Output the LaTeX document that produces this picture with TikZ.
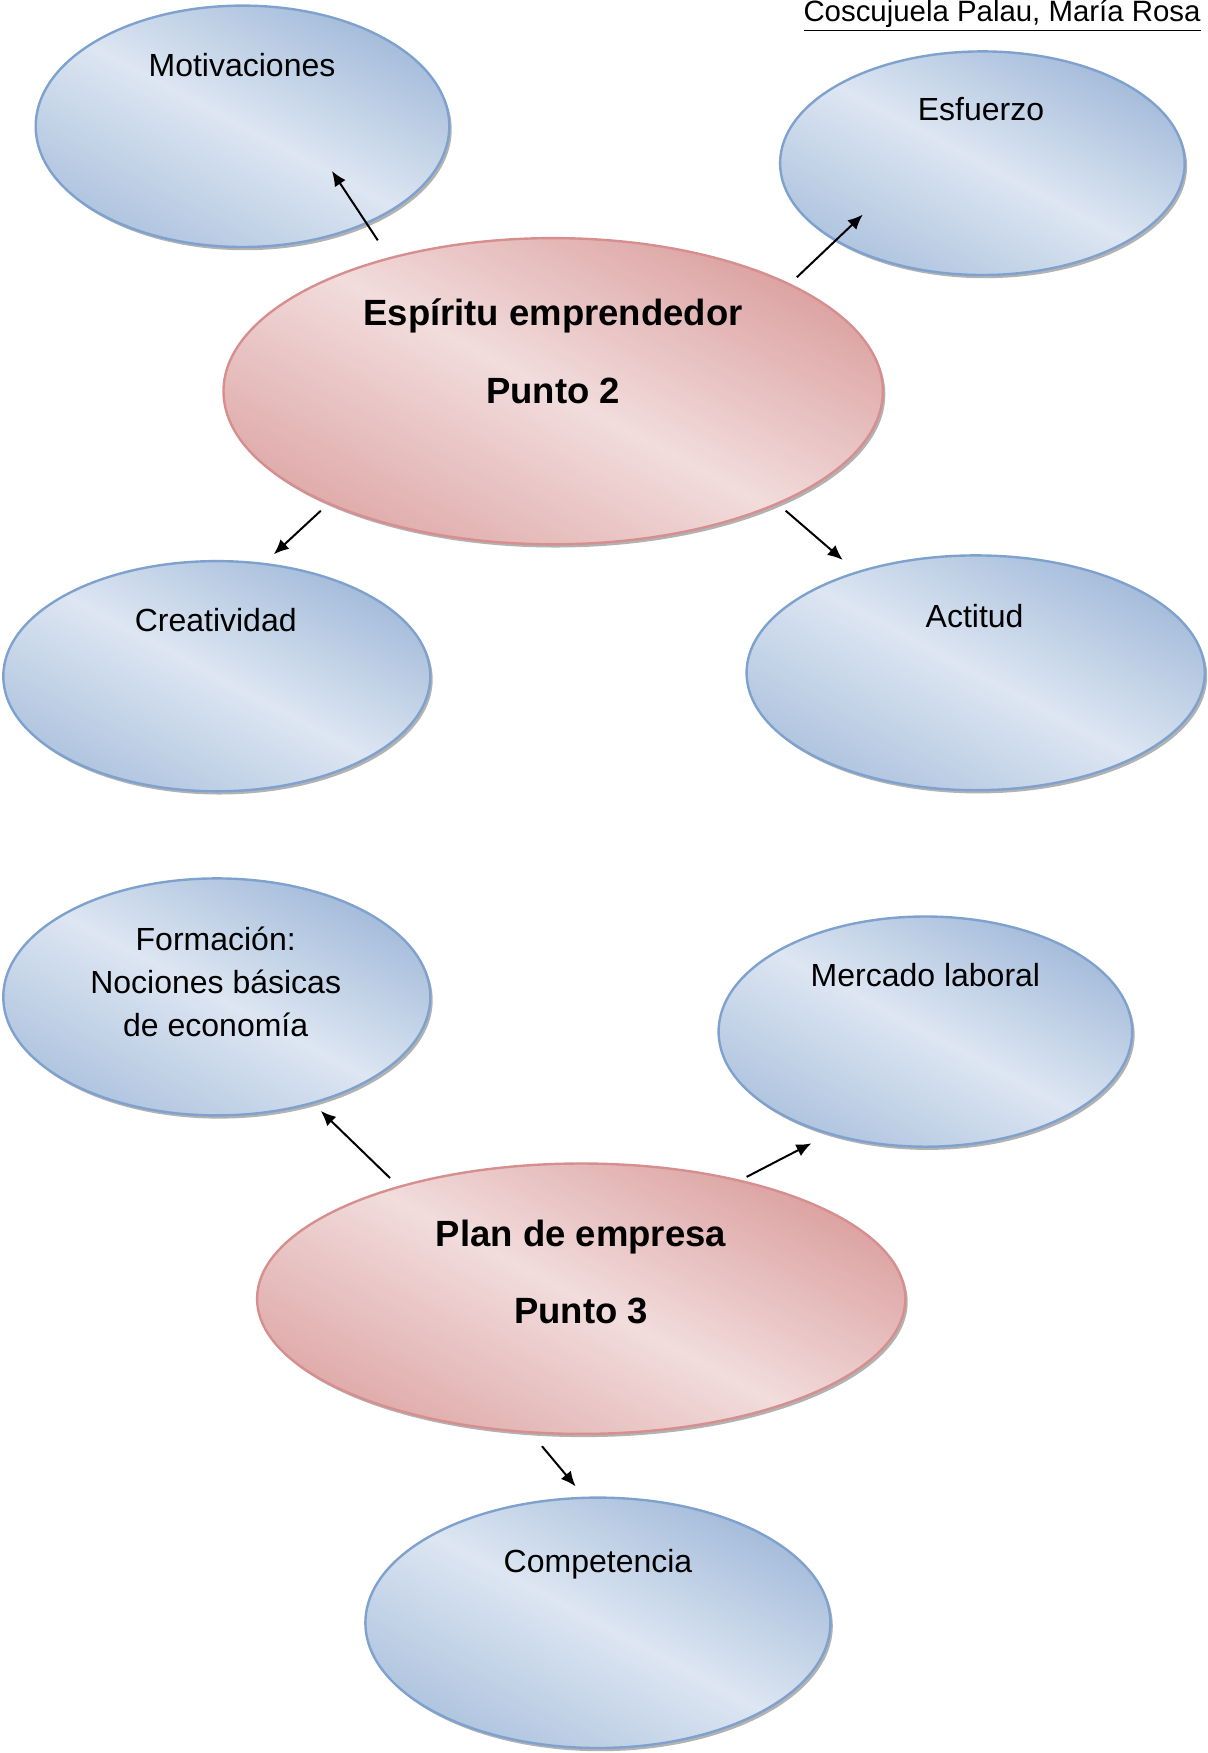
\documentclass[tikz,border=0pt]{standalone}
\usepackage{fontspec}
\setmainfont{Liberation Sans}
\usetikzlibrary{shapes.geometric,shadows,arrows.meta}
\definecolor{bluebd}{HTML}{7FA1CE}
\definecolor{bluedk}{HTML}{A3BBDA}
\definecolor{bluelt}{HTML}{DDE6F2}
\definecolor{pinkbd}{HTML}{D68F8E}
\definecolor{pinkdk}{HTML}{DCA1A1}
\definecolor{pinklt}{HTML}{F2DCDC}
\tikzset{
  ellbase/.style={ellipse, inner sep=0pt, line width=1.2pt,
    drop shadow={shadow xshift=1.2pt, shadow yshift=-1.6pt, fill=black, opacity=0.3}},
  blueell/.style={ellbase, draw=bluebd, shading=axis, top color=bluedk,
    bottom color=bluedk!80!bluelt, middle color=bluelt, shading angle=-28},
  pinkell/.style={ellbase, draw=pinkbd, shading=axis, top color=pinkdk,
    bottom color=pinkdk!85!pinklt, middle color=pinklt, shading angle=-28},
  txt/.style={font=\fontsize{16}{19}\selectfont, anchor=base, inner sep=0pt},
  btxt/.style={font=\fontsize{18.25}{22}\selectfont\bfseries, anchor=base, inner sep=0pt},
  arr/.style={line width=1pt, -{Latex[length=7.5pt,width=6.5pt]}}
}
\begin{document}
\begin{tikzpicture}[x=0.5pt,y=-0.5pt]
\useasboundingbox (0,0) rectangle (1207,1753);
% header
\node[font=\fontsize{14.7}{17}\selectfont, anchor=base east, inner sep=0pt] (author) at (1201,21) {\underline{Coscujuela Palau, María Rosa}};
% ellipses
\node[blueell, minimum width=206.8pt, minimum height=120.7pt] (mot) at (242.5,126.3) {};
\node[blueell, minimum width=202.3pt, minimum height=111.8pt] (esf) at (982.4,163.2) {};
\node[pinkell, minimum width=329.7pt, minimum height=153.1pt] (esp) at (553.2,391.2) {};
\node[blueell, minimum width=213.5pt, minimum height=115.1pt] (cre) at (216.8,676.2) {};
\node[blueell, minimum width=229.1pt, minimum height=117.4pt] (act) at (975.7,672.8) {};
\node[blueell, minimum width=213.5pt, minimum height=118.5pt] (for) at (216.8,996.9) {};
\node[blueell, minimum width=206.8pt, minimum height=115.1pt] (mer) at (925.4,1031.6) {};
\node[pinkell, minimum width=324.1pt, minimum height=135.2pt] (pla) at (581.2,1298.7) {};
\node[blueell, minimum width=232.5pt, minimum height=125.2pt] (com) at (597.9,1622.8) {};
% texts
\node[txt] (motT) at (242,76.5) {Motivaciones};
\node[txt] (esfT) at (981,120.7) {Esfuerzo};
\node[btxt] (espT1) at (553,325) {Espíritu emprendedor};
\node[btxt] (espT2) at (553,403.3) {Punto 2};
\node[txt] (creT) at (215.7,631.5) {Creatividad};
\node[txt] (actT) at (974.6,627) {Actitud};
\node[txt] (forT1) at (215.7,950) {Formación:};
\node[txt] (forT2) at (215.7,993.6) {Nociones básicas};
\node[txt] (forT3) at (215.7,1036.7) {de economía};
\node[txt] (merT) at (925.4,986.9) {Mercado laboral};
\node[btxt] (plaT1) at (581,1246.1) {Plan de empresa};
\node[btxt] (plaT2) at (581,1323.3) {Punto 3};
\node[txt] (comT) at (598,1572.5) {Competencia};
% arrow end points
\coordinate (a1s) at (377.8,240.3); \coordinate (a1e) at (331.9,171.0);
\coordinate (a2s) at (796.9,277.2); \coordinate (a2e) at (862.8,214.6);
\coordinate (a3s) at (320.8,510.7); \coordinate (a3e) at (273.8,554.3);
\coordinate (a4s) at (785.7,510.7); \coordinate (a4e) at (842.7,559.9);
\coordinate (a5s) at (390.0,1178.0); \coordinate (a5e) at (320.8,1110.9);
\coordinate (a6s) at (746.6,1176.9); \coordinate (a6e) at (811.4,1143.3);
\coordinate (a7s) at (542.0,1446.2); \coordinate (a7e) at (575.6,1486.4);
\draw[arr] (a1s) -- (a1e);
\draw[arr] (a2s) -- (a2e);
\draw[arr] (a3s) -- (a3e);
\draw[arr] (a4s) -- (a4e);
\draw[arr] (a5s) -- (a5e);
\draw[arr] (a6s) -- (a6e);
\draw[arr] (a7s) -- (a7e);
\end{tikzpicture}
\end{document}
